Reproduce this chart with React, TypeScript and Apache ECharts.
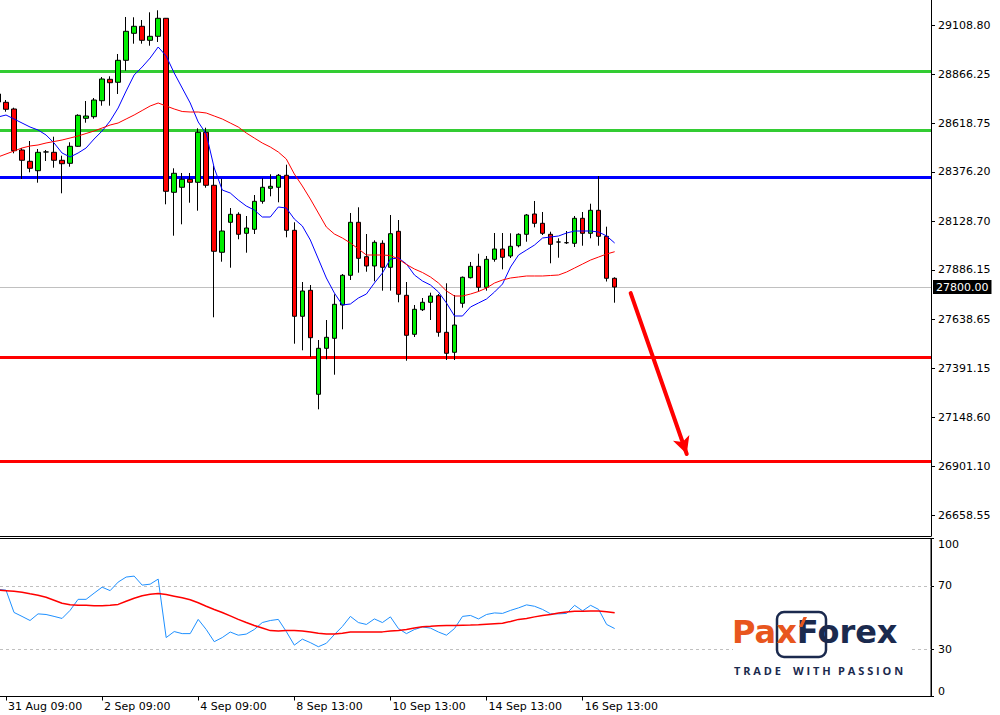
import React, { useEffect, useRef } from 'react';
import * as echarts from 'echarts';

// ---------- time axis (H4 candles) ----------
const H6 = ['01:00', '05:00', '09:00', '13:00', '17:00', '21:00'];
const sessionDays: [string, string[]][] = [
  ['31 Aug', ['05:00', '09:00', '13:00', '17:00', '21:00']],
  ['1 Sep', H6],
  ['2 Sep', H6],
  ['3 Sep', H6],
  ['4 Sep', H6],
  ['7 Sep', ['01:00', '05:00', '09:00', '13:00', '17:00']],
  ['8 Sep', H6],
  ['9 Sep', H6],
  ['10 Sep', H6],
  ['11 Sep', H6],
  ['14 Sep', H6],
  ['15 Sep', H6],
  ['16 Sep', H6],
  ['17 Sep', ['01:00', '05:00']],
];
const candleTimes: string[] = sessionDays.flatMap(([d, hs]) => hs.map((h) => `${d} ${h}`));
const emptySlots = 39;
const xTickLabels = ['31 Aug 09:00', '2 Sep 09:00', '4 Sep 09:00', '8 Sep 13:00', '10 Sep 13:00', '14 Sep 13:00', '16 Sep 13:00'];

// ---------- price data ----------
const opens = [
  28766.8, 28725.2, 28691.7, 28486.3, 28429.8, 28382.7, 28476.5, 28474.8, 28434.8, 28419.7,
  28504.9, 28645.1, 28653.1, 28733.2, 28840.4, 28825.4, 28935.5, 29070.7, 29105.8, 29035.7,
  29055.7, 29145.9, 28274.5, 28299.6, 28339.6, 28324.6, 28575.0, 28309.6, 27974.1, 28124.3,
  28164.3, 28069.2, 28089.2, 28229.4, 28294.6, 28299.6, 28359.7, 28084.2, 27653.6, 27783.8,
  27263.0, 27493.3, 27543.4, 27710.2, 27858.9, 28124.3, 27952.0, 27905.5, 28019.1, 27898.9,
  28079.2, 27758.7, 27563.4, 27686.6, 27723.7, 27756.7, 27573.4, 27473.3, 27718.7, 27846.9,
  27903.9, 27798.8, 27939.0, 27990.6, 27955.5, 28007.1, 28064.2, 28165.9, 28119.3, 28064.2,
  28025.6, 28022.1, 28019.1, 28144.3, 28069.2, 28184.4, 28054.2, 27843.9,
];
const closes = [
  28726.7, 28690.2, 28482.8, 28434.8, 28394.7, 28474.8, 28476.5, 28434.8, 28417.7, 28504.9,
  28660.1, 28656.6, 28736.7, 28841.9, 28823.4, 28935.5, 29080.8, 29105.8, 29035.7, 29055.7,
  29145.9, 28279.5, 28369.7, 28339.6, 28324.6, 28575.0, 28309.6, 27979.1, 28080.7, 28164.3,
  28064.2, 28095.7, 28229.4, 28299.6, 28304.6, 28359.7, 28084.2, 27653.6, 27780.3, 27546.4,
  27493.3, 27548.4, 27713.7, 27858.9, 28124.3, 27944.0, 27905.5, 28024.1, 27898.9, 28067.2,
  27763.7, 27558.4, 27688.6, 27723.7, 27755.2, 27573.4, 27468.3, 27610.0, 27848.9, 27903.9,
  27798.8, 27939.0, 27990.6, 27949.0, 28004.1, 28064.2, 28160.8, 28119.3, 28069.2, 28014.1,
  28025.6, 28022.1, 28144.3, 28069.2, 28184.4, 28054.2, 27843.9, 27800.0,
];
const highs = [
  28776.8, 28736.7, 28698.2, 28496.4, 28531.4, 28491.4, 28486.3, 28552.9, 28457.8, 28524.9,
  28665.1, 28731.7, 28746.7, 28851.9, 28855.4, 28967.1, 29152.4, 29150.9, 29137.3, 29175.9,
  29185.9, 29147.4, 28394.7, 28371.2, 28371.2, 28595.0, 28598.0, 28407.7, 28342.6, 28195.9,
  28174.4, 28155.8, 28261.0, 28344.6, 28364.7, 28366.2, 28412.7, 28124.3, 27825.3, 27810.3,
  27534.9, 27635.0, 27763.7, 27865.4, 28170.9, 28199.4, 28065.7, 28034.1, 28034.1, 28160.8,
  28135.8, 27825.3, 27710.2, 27745.2, 27771.7, 27765.2, 27818.8, 27760.2, 27852.9, 27925.5,
  27967.0, 27955.5, 28070.7, 28070.7, 28069.2, 28069.2, 28165.9, 28231.0, 28175.9, 28077.2,
  28044.2, 28080.7, 28155.8, 28175.9, 28217.4, 28356.1, 28102.3, 27848.9,
];
const lows = [
  28716.7, 28678.1, 28469.8, 28341.1, 28374.7, 28322.6, 28431.3, 28397.7, 28269.5, 28402.7,
  28502.9, 28623.1, 28643.1, 28708.2, 28708.2, 28766.8, 28883.5, 29018.7, 29018.7, 29008.6,
  29027.2, 28214.4, 28057.2, 28114.3, 28222.4, 28182.4, 28297.5, 27648.6, 27927.0, 27896.9,
  28039.2, 27972.1, 28065.7, 28217.4, 28254.5, 28224.4, 28049.2, 27516.4, 27483.3, 27449.8,
  27187.8, 27438.2, 27361.1, 27588.5, 27835.3, 27871.9, 27876.9, 27828.8, 27781.8, 27781.8,
  27723.7, 27431.2, 27549.9, 27680.1, 27635.0, 27551.4, 27434.7, 27434.7, 27696.6, 27842.9,
  27776.7, 27781.8, 27927.0, 27888.9, 27945.5, 27999.1, 28027.1, 28099.2, 28060.7, 27919.0,
  27947.0, 28015.6, 28000.6, 28007.1, 28044.2, 28007.1, 27827.8, 27721.7,
];
const maFast = [
  28651.6, 28661.6, 28641.6, 28621.5, 28601.5, 28586.5, 28561.5, 28521.4, 28471.3, 28451.3,
  28471.3, 28496.4, 28541.4, 28581.5, 28631.6, 28696.7, 28781.8, 28861.9, 28902.0, 28947.1,
  29002.1, 28957.1, 28871.9, 28796.8, 28721.7, 28626.6, 28566.5, 28396.2, 28286.0, 28271.0,
  28235.9, 28205.9, 28185.9, 28150.8, 28150.8, 28200.9, 28195.9, 28140.8, 28105.8, 28035.7,
  27940.6, 27845.4, 27770.4, 27710.2, 27715.2, 27745.2, 27765.2, 27820.3, 27870.4, 27940.5,
  27945.5, 27915.5, 27860.4, 27830.3, 27810.3, 27775.2, 27720.2, 27655.1, 27655.1, 27700.2,
  27720.2, 27740.2, 27775.2, 27815.3, 27900.4, 27960.5, 27985.6, 28010.6, 28045.7, 28050.7,
  28055.7, 28070.7, 28080.7, 28080.7, 28080.7, 28075.7, 28055.7, 28020.6,
];
const maSlow = [
  28451.3, 28466.3, 28481.3, 28496.4, 28506.4, 28511.4, 28521.4, 28528.9, 28536.4, 28546.4,
  28556.5, 28569.0, 28581.5, 28596.5, 28611.5, 28621.5, 28641.6, 28661.6, 28684.1, 28706.7,
  28721.7, 28706.7, 28691.7, 28679.1, 28676.6, 28676.6, 28671.6, 28656.6, 28641.6, 28621.5,
  28601.5, 28571.5, 28546.4, 28521.4, 28501.4, 28476.3, 28441.3, 28366.2, 28306.1, 28241.0,
  28170.9, 28100.8, 28065.7, 28045.7, 28020.6, 27990.6, 27960.5, 27960.5, 27960.5, 27958.0,
  27940.5, 27913.0, 27890.4, 27872.9, 27850.4, 27820.3, 27780.3, 27755.2, 27755.2, 27765.2,
  27777.7, 27795.3, 27820.3, 27835.3, 27845.4, 27850.4, 27855.4, 27855.4, 27855.4, 27857.9,
  27860.4, 27875.4, 27895.4, 27915.5, 27935.5, 27950.5, 27965.5, 27977.0,
];
const rsi = [
  67.9, 67.3, 53.2, 50.7, 48.1, 52.3, 51.9, 50.7, 49.4, 54.5,
  61.5, 61.5, 65.4, 69.2, 67.0, 72.4, 75.6, 76.2, 70.5, 71.1,
  74.3, 37.3, 41.1, 39.8, 39.8, 48.8, 42.4, 34.7, 37.3, 40.8,
  38.8, 39.5, 42.4, 46.8, 48.1, 48.8, 41.1, 32.5, 36.3, 34.1,
  31.5, 33.7, 39.2, 44.3, 50.7, 46.8, 45.6, 49.1, 46.8, 50.4,
  43.0, 39.8, 42.4, 44.0, 43.3, 40.8, 38.8, 43.0, 50.7, 51.3,
  49.1, 51.9, 52.9, 52.6, 54.5, 56.1, 58.0, 57.1, 55.1, 52.3,
  52.3, 52.6, 57.7, 54.2, 57.7, 55.1, 45.6, 43.0,
];
const rsiMa = [
  67.3, 67.0, 66.6, 66.0, 65.0, 64.1, 62.8, 60.9, 59.0, 58.0,
  57.7, 57.7, 57.4, 57.4, 57.7, 58.3, 60.3, 62.2, 63.8, 64.7,
  65.2, 64.5, 63.5, 62.5, 61.2, 59.3, 57.1, 55.1, 53.2, 51.0,
  48.8, 46.8, 44.9, 43.3, 41.7, 41.4, 41.7, 41.7, 41.4, 40.8,
  40.1, 39.6, 39.6, 40.1, 40.8, 40.9, 40.9, 40.9, 40.9, 41.4,
  41.7, 42.4, 43.3, 44.1, 44.4, 44.8, 44.9, 45.0, 45.1, 45.2,
  45.4, 45.7, 46.0, 46.3, 47.5, 48.8, 49.4, 50.4, 51.3, 51.9,
  52.9, 53.5, 53.9, 54.0, 54.1, 54.1, 53.7, 53.0,
];

// ---------- axes / levels ----------
const priceTicks = [26658.55, 26901.1, 27148.6, 27391.15, 27638.65, 27886.15, 28128.7, 28376.2, 28618.75, 28866.25, 29108.8];
const priceMin = 26553.4;
const priceMax = 29237.5;
const rsiTicks = [0, 30, 70, 100];
const rsiLevels = [30, 70];
const bidPrice = 27800.0;
const greenLevels = [28880, 28585];
const blueLevels = [28352];
const redLevels = [27447, 26926];
const arrowFrom: [number, number] = [79, 27770];
const arrowTo: [number, number] = [86, 26964];

const FONT = 'DejaVu Sans';
const BULL = '#00ee00';
const BEAR = '#ff0000';
const NAVY = '#1b2a4e';
const ORANGE = '#e8561e';

export default function App() {
  const ref = useRef<HTMLDivElement>(null);

  useEffect(() => {
    if (!ref.current) return;
    const chart = echarts.init(ref.current, undefined, { renderer: 'svg' });

    const xCats = [...candleTimes];
    for (let i = 0; i < emptySlots; i++) xCats.push(`slot ${i + 1}`);
    const isTick = (_i: number, v: string) => xTickLabels.includes(v);

    const candleData = opens.map((o, i) => [o, closes[i], lows[i], highs[i]]);

    const levelLine = (v: number, color: string) => ({
      yAxis: v,
      lineStyle: { color, width: 3, type: 'solid' },
      label: { show: false },
    });

    const taglineWords: [string, number][] = [['T R A D E', 734], ['W I T H', 793], ['P A S S I O N', 838]];
    const logoFont = { fontFamily: 'DejaVu Sans', fontWeight: 'bold', fontSize: 32 };

    const option: any = {
      animation: false,
      backgroundColor: '#ffffff',
      grid: [
        { left: -6, right: 69, top: 0, bottom: 179, containLabel: false, outerBoundsMode: 'none' },
        {
          left: -6, right: 69, top: 538.5, bottom: 18.5, containLabel: false, outerBoundsMode: 'none',
          show: true, borderColor: '#000', borderWidth: 1, backgroundColor: 'transparent',
        },
      ],
      xAxis: [
        {
          type: 'category', gridIndex: 0, data: xCats, boundaryGap: true,
          axisLine: { show: true, lineStyle: { color: '#000', width: 1 } },
          axisTick: { show: false }, axisLabel: { show: false }, splitLine: { show: false },
        },
        {
          type: 'category', gridIndex: 1, data: xCats, boundaryGap: true,
          axisLine: { show: true, lineStyle: { color: '#000', width: 1 } },
          axisTick: { show: true, alignWithLabel: true, interval: isTick, length: 4, lineStyle: { color: '#000' } },
          axisLabel: { show: true, interval: isTick, align: 'left', color: '#000', fontFamily: FONT, fontSize: 11, margin: 4, padding: [0, 0, 0, 2] },
          splitLine: { show: false },
        },
      ],
      yAxis: [
        {
          type: 'value', gridIndex: 0, position: 'right', min: priceMin, max: priceMax,
          axisLine: { show: true, lineStyle: { color: '#000', width: 1 } },
          axisTick: { show: true, customValues: priceTicks, length: 4, lineStyle: { color: '#000' } },
          axisLabel: { customValues: priceTicks, formatter: (v: number) => v.toFixed(2), color: '#000', fontFamily: FONT, fontSize: 11, margin: 7 },
          splitLine: { show: false },
        },
        {
          type: 'value', gridIndex: 1, position: 'right', min: 0, max: 100,
          axisLine: { show: true, lineStyle: { color: '#000', width: 1 } },
          axisTick: { show: true, customValues: rsiTicks, length: 3, lineStyle: { color: '#000' } },
          axisLabel: {
            customValues: rsiTicks, formatter: (v: number) => String(v), color: '#000', fontFamily: FONT, fontSize: 11, margin: 7,
            verticalAlignMinLabel: 'bottom', verticalAlignMaxLabel: 'top',
          },
          splitLine: { show: false },
        },
      ],
      series: [
        {
          type: 'candlestick', xAxisIndex: 0, yAxisIndex: 0, data: candleData, barWidth: 5, z: 2,
          itemStyle: { color: BULL, color0: BEAR, borderColor: '#000', borderColor0: '#000', borderColorDoji: '#000', borderWidth: 1 },
          markLine: {
            silent: true, symbol: 'none', z: 1, animation: false,
            data: [
              ...greenLevels.map((v) => levelLine(v, '#33cc33')),
              ...blueLevels.map((v) => levelLine(v, '#0000ff')),
              ...redLevels.map((v) => levelLine(v, '#ff0000')),
              {
                yAxis: bidPrice,
                lineStyle: { color: '#c0c0c0', width: 1, type: 'solid' },
                label: {
                  show: true, position: 'end', formatter: bidPrice.toFixed(2), distance: 2,
                  backgroundColor: '#000', color: '#fff', padding: [2, 3, 1, 3], fontFamily: FONT, fontSize: 11,
                },
              },
            ],
          },
        },
        {
          type: 'line', xAxisIndex: 0, yAxisIndex: 0, data: maFast, symbol: 'none', z: 3, silent: true,
          lineStyle: { color: '#0000ff', width: 1 }, itemStyle: { color: '#0000ff' },
        },
        {
          type: 'line', xAxisIndex: 0, yAxisIndex: 0, data: maSlow, symbol: 'none', z: 3, silent: true,
          lineStyle: { color: '#ff0000', width: 1 }, itemStyle: { color: '#ff0000' },
          markLine: {
            silent: true, z: 5, animation: false,
            symbol: ['none', 'arrow'], symbolSize: [13, 17],
            label: { show: false },
            lineStyle: { color: '#ff0000', width: 4, type: 'solid', cap: 'round' },
            data: [[{ coord: arrowFrom }, { coord: arrowTo }]],
          },
        },
        {
          type: 'line', xAxisIndex: 1, yAxisIndex: 1, data: rsi, symbol: 'none', z: 3, silent: true,
          lineStyle: { color: '#1e90ff', width: 1 }, itemStyle: { color: '#1e90ff' },
          markLine: {
            silent: true, symbol: 'none', z: 1, animation: false, label: { show: false },
            lineStyle: { color: '#c0c0c0', width: 1, type: [3, 3] },
            data: rsiLevels.map((v) => ({ yAxis: v })),
          },
        },
        {
          type: 'line', xAxisIndex: 1, yAxisIndex: 1, data: rsiMa, symbol: 'none', z: 3, silent: true,
          lineStyle: { color: '#ff0000', width: 1.5 }, itemStyle: { color: '#ff0000' },
        },
      ],
      graphic: [
        { type: 'rect', z: 50, shape: { x: 733, y: 607, width: 177, height: 71 }, style: { fill: '#ffffff' } },
        { type: 'rect', z: 51, shape: { x: 777, y: 612, width: 49, height: 45, r: 7 }, style: { fill: '#ffffff', stroke: NAVY, lineWidth: 2.5 } },
        {
          type: 'text', z: 52,
          style: {
            text: '{o|Pax}{n|Forex}', x: 732, y: 632, align: 'left', verticalAlign: 'middle', textAlign: 'left', textVerticalAlign: 'middle',
            rich: { o: { ...logoFont, fill: ORANGE, color: ORANGE }, n: { ...logoFont, fill: NAVY, color: NAVY } },
          },
        },
        { type: 'polygon', z: 53, shape: { points: [[799, 627], [802.5, 627], [807, 617], [803.5, 617]] }, style: { fill: ORANGE } },
        ...taglineWords.map(([t, x]) => ({
          type: 'text', z: 52,
          style: { text: t, x, y: 670, fill: NAVY, font: 'bold 11px "Open Sans"', align: 'left', verticalAlign: 'middle', textAlign: 'left', textVerticalAlign: 'middle' },
        })),
      ],
    };

    chart.setOption(option);
    return () => chart.dispose();
  }, []);

  return <div ref={ref} style={{ position: 'absolute', left: 0, top: 0, width: 1000, height: 715, background: '#fff' }} />;
}
